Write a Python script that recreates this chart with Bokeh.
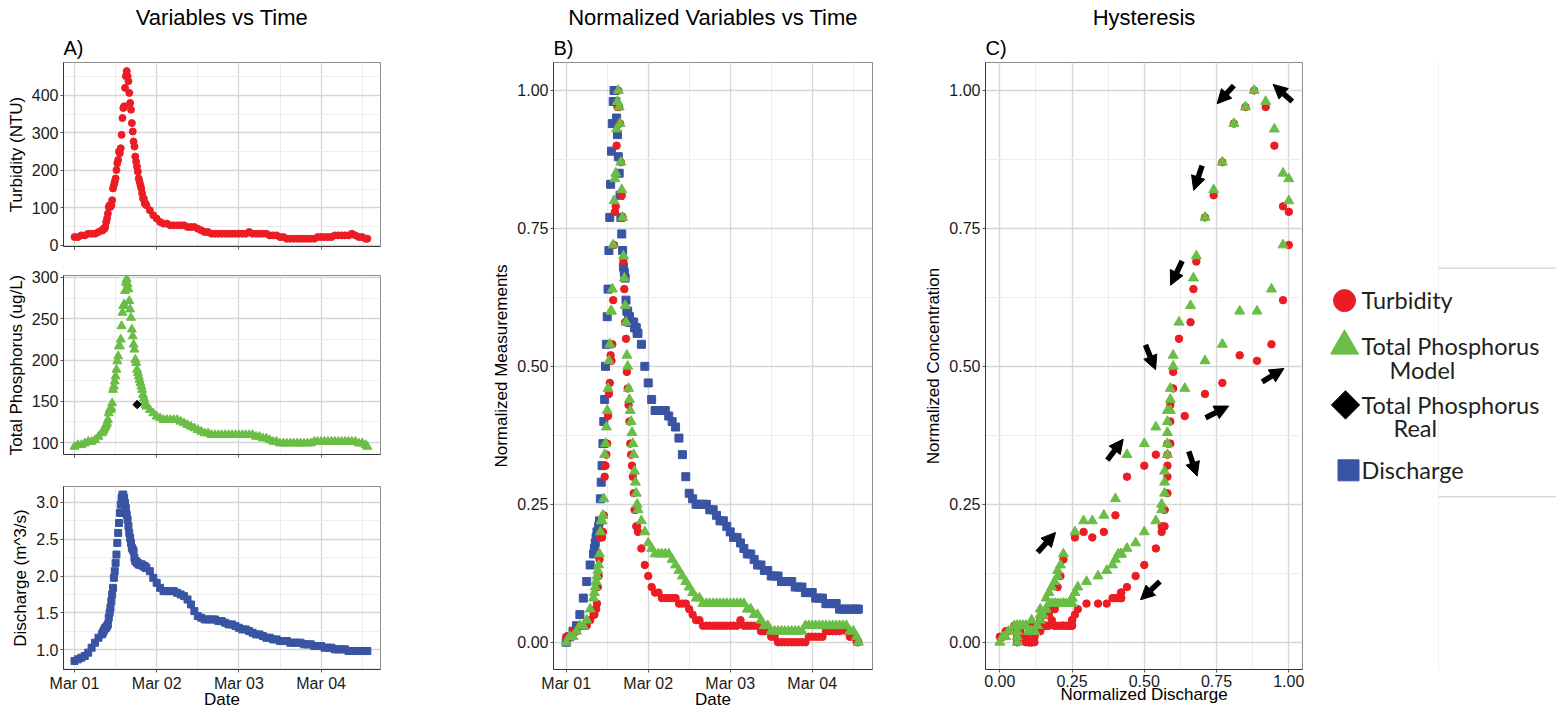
import math
from bokeh.plotting import figure
from bokeh.layouts import row, column
from bokeh.models import (Range1d, FixedTicker, Title, Arrow, NormalHead,
                          ColumnDataSource, NumeralTickFormatter)
from bokeh.embed import file_html
from bokeh.resources import INLINE
from bokeh.core.properties import value

# ---------------- data ----------------
# time: hours after Mar 01 00:00
hours = [0, 1, 2, 3, 4, 5, 6, 7, 8,
         8.25, 8.5, 8.75, 9, 9.25, 9.5, 9.75, 10, 10.25, 10.5, 10.75, 11, 11.25, 11.5, 11.75, 12,
         12.25, 12.5, 12.75, 13, 13.25, 13.5, 13.75, 14, 14.25, 14.5, 14.75, 15, 15.25, 15.5, 15.75, 16,
         16.25, 16.5, 16.75, 17, 17.25, 17.5, 17.75, 18, 18.25, 18.5, 18.75, 19, 19.25, 19.5, 19.75, 20,
         20.25, 20.5, 20.75, 21,
         22, 23, 24, 25, 26, 27, 28, 29, 30, 31, 32, 33, 34, 35, 36, 37, 38, 39, 40, 41, 42, 43, 44, 45, 46, 47,
         48, 49, 50, 51, 52, 53, 54, 55, 56, 57, 58, 59, 60, 61, 62, 63, 64, 65, 66, 67, 68, 69, 70, 71,
         72, 73, 74, 75, 76, 77, 78, 79, 80, 81, 82, 83, 84, 85, 85.5]

discharge_norm = [
    0.00, 0.01, 0.02, 0.03, 0.05, 0.08, 0.11, 0.14, 0.16,
    0.17, 0.18, 0.19, 0.20, 0.20, 0.21, 0.22, 0.26, 0.29, 0.32, 0.36, 0.40, 0.44, 0.50, 0.54, 0.59,
    0.64, 0.71, 0.77, 0.83, 0.89, 0.94, 0.98, 1.00, 1.00, 0.98, 0.95, 0.92, 0.88, 0.85, 0.81, 0.77,
    0.74, 0.71, 0.68, 0.67, 0.66, 0.62, 0.60, 0.60, 0.59, 0.59, 0.58, 0.58, 0.58, 0.58, 0.58, 0.57,
    0.57, 0.57, 0.56, 0.56,
    0.54, 0.50, 0.47, 0.44, 0.42, 0.42, 0.42, 0.42, 0.41, 0.40, 0.39, 0.37, 0.34, 0.30, 0.27, 0.26,
    0.25, 0.25, 0.25, 0.25, 0.24, 0.24, 0.23, 0.22, 0.22, 0.21,
    0.20, 0.19, 0.19, 0.18, 0.17, 0.16, 0.16, 0.15, 0.14, 0.14, 0.13, 0.13, 0.12, 0.12, 0.12, 0.11,
    0.11, 0.11, 0.11, 0.10, 0.10, 0.10, 0.09, 0.09,
    0.09, 0.08, 0.08, 0.08, 0.07, 0.07, 0.07, 0.07, 0.06, 0.06, 0.06, 0.06, 0.06, 0.06, 0.06]

turbidity_norm = [
    0.01, 0.01, 0.02, 0.02, 0.03, 0.03, 0.03, 0.04, 0.05,
    0.05, 0.06, 0.06, 0.07, 0.10, 0.12, 0.15, 0.19, 0.20, 0.19, 0.20, 0.23, 0.30, 0.32, 0.34, 0.36,
    0.41, 0.45, 0.47, 0.52, 0.51, 0.54, 0.62, 0.72, 0.78, 0.79, 0.90, 0.97, 1.00, 0.97, 0.94, 0.87,
    0.81, 0.77, 0.69, 0.64, 0.58, 0.55, 0.49, 0.46, 0.43, 0.40, 0.36, 0.34, 0.32, 0.30, 0.27, 0.24,
    0.24, 0.21, 0.21, 0.20,
    0.17, 0.14, 0.12, 0.10, 0.09, 0.09, 0.08, 0.08, 0.08, 0.08, 0.08, 0.07, 0.07, 0.07, 0.06, 0.05,
    0.04, 0.04, 0.03, 0.03, 0.03, 0.03, 0.03, 0.03, 0.03, 0.03,
    0.03, 0.03, 0.03, 0.04, 0.03, 0.03, 0.03, 0.03, 0.03, 0.02, 0.02, 0.02, 0.01, 0.01, 0.00, 0.00,
    0.00, 0.00, 0.00, 0.00, 0.00, 0.00, 0.00, 0.01,
    0.01, 0.01, 0.01, 0.01, 0.02, 0.02, 0.02, 0.02, 0.02, 0.03, 0.02, 0.01, 0.01, 0.00, 0.00]

tp_model_norm = [
    0.00, 0.01, 0.01, 0.02, 0.03, 0.03, 0.04, 0.06, 0.08,
    0.09, 0.10, 0.11, 0.12, 0.13, 0.14, 0.16, 0.20, 0.22, 0.22, 0.23, 0.26, 0.34, 0.36, 0.39, 0.42,
    0.46, 0.51, 0.54, 0.60, 0.60, 0.64, 0.72, 0.80, 0.84, 0.85, 0.93, 0.98, 1.00, 0.97, 0.94, 0.87,
    0.82, 0.77, 0.70, 0.66, 0.61, 0.58, 0.52, 0.50, 0.46, 0.44, 0.42, 0.40, 0.38, 0.36, 0.34, 0.31,
    0.29, 0.27, 0.25, 0.24,
    0.22, 0.20, 0.18, 0.17, 0.16, 0.16, 0.16, 0.16, 0.16, 0.15, 0.14, 0.13, 0.12, 0.11, 0.10, 0.09,
    0.08, 0.08, 0.07, 0.07, 0.07, 0.07, 0.07, 0.07, 0.07, 0.07,
    0.07, 0.07, 0.07, 0.07, 0.07, 0.06, 0.06, 0.05, 0.05, 0.04, 0.03, 0.03, 0.02, 0.02, 0.02, 0.02,
    0.02, 0.02, 0.02, 0.02, 0.02, 0.02, 0.03, 0.03,
    0.03, 0.03, 0.03, 0.03, 0.03, 0.03, 0.03, 0.03, 0.03, 0.03, 0.03, 0.02, 0.02, 0.01, 0.00]

turbidity_range = (18.0, 465.0)     # NTU
tp_range = (95.0, 298.0)            # ug/L
discharge_range = (0.85, 3.10)      # m^3/s

# single lab sample of total phosphorus
tp_real_hours = [18.3]
tp_real_value = [146.0]

date_ticks = [0, 24, 48, 72]
date_labels = ["Mar 01", "Mar 02", "Mar 03", "Mar 04"]

# hysteresis arrows (normalized discharge, normalized concentration): tail -> head
arrow_q0 = [0.810, 1.012, 0.700, 0.631, 0.504, 0.908, 0.712, 0.372, 0.654, 0.131, 0.554]
arrow_c0 = [1.009, 0.980, 0.864, 0.691, 0.539, 0.472, 0.407, 0.330, 0.346, 0.163, 0.110]
arrow_q1 = [0.752, 0.946, 0.671, 0.591, 0.539, 0.983, 0.792, 0.427, 0.683, 0.193, 0.487]
arrow_c1 = [0.976, 1.011, 0.819, 0.647, 0.494, 0.496, 0.428, 0.368, 0.301, 0.199, 0.077]

legend_labels = ["Turbidity", "Total Phosphorus", "Total Phosphorus", "Discharge"]
legend_sublabels = ["Model", "Real"]

n = len(hours)
for arr in (discharge_norm, turbidity_norm, tp_model_norm):
    assert len(arr) == n, (len(arr), n)


def scale(norm, rng):
    lo, hi = rng
    return [lo + v * (hi - lo) for v in norm]


turbidity = scale(turbidity_norm, turbidity_range)
tp_model = scale(tp_model_norm, tp_range)
discharge = scale(discharge_norm, discharge_range)

src = ColumnDataSource(dict(h=hours, turb=turbidity, tp=tp_model, q=discharge,
                            turb_n=turbidity_norm, tp_n=tp_model_norm, q_n=discharge_norm))

# ---------------- styling ----------------
FONT = "Liberation Sans"
RED = "#EC1C24"
GREEN = "#6ABD45"
BLUE = "#3A54A4"
GRID = "#d6d6d6"
MINOR = "#ededed"
TOP_BORDER = 62
BOTTOM_BORDER = 41


def make_fig(width, height, xr, yr, bl, br, bt, bb, tag=None, main_title=None):
    p = figure(width=width, height=height, x_range=Range1d(*xr), y_range=Range1d(*yr),
               output_backend="svg", toolbar_location=None, title=main_title,
               min_border_left=bl, min_border_right=br, min_border_top=bt, min_border_bottom=bb)
    p.outline_line_color = "#8c8c8c"
    p.outline_line_width = 1
    p.background_fill_color = "white"
    p.border_fill_color = "white"
    for ax in p.axis:
        ax.axis_line_color = "#333333"
        ax.major_tick_line_color = "#555555"
        ax.major_tick_out = 3
        ax.major_tick_in = 0
        ax.minor_tick_line_color = None
        ax.minor_tick_out = 0
        ax.major_label_text_font = FONT
        ax.major_label_text_font_size = "16px"
        ax.major_label_text_color = "#1a1a1a"
        ax.major_label_standoff = 2
        ax.axis_label_text_font = FONT
        ax.axis_label_text_font_size = "17px"
        ax.axis_label_text_font_style = "normal"
        ax.axis_label_text_color = "#000000"
        ax.axis_label_standoff = 3
    for ax in p.xaxis:
        ax.axis_label_standoff = -5
        ax.major_label_standoff = 2
    for g in p.grid:
        g.grid_line_color = GRID
        g.grid_line_width = 1.3
        g.minor_grid_line_color = MINOR
        g.minor_grid_line_width = 1
    if main_title is not None:
        p.title.align = "center"
        p.title.text_font = FONT
        p.title.text_font_size = "22px"
        p.title.text_font_style = "normal"
        p.title.text_color = "#000000"
        p.title.standoff = 2
    if tag is not None:
        p.add_layout(Title(text=tag, align="left", text_font=FONT,
                           text_font_size="20px", text_font_style="normal",
                           text_color="#000000", standoff=8), "above")
    return p


def date_axis(p, show_labels=True):
    p.xaxis.ticker = FixedTicker(ticks=date_ticks, minor_ticks=[t + 12 for t in date_ticks])
    if show_labels:
        p.xaxis.major_label_overrides = {t: lab for t, lab in zip(date_ticks, date_labels)}
        p.xaxis.axis_label = "Date"
    else:
        p.xaxis.major_label_overrides = {t: "" for t in date_ticks}
        p.xaxis.major_label_text_font_size = "1px"


def diamond(p, x, y, size, color):
    # a square turned 45 degrees, as the reference draws its diamonds
    p.scatter(x, y, marker="square", size=size, angle=math.pi / 4, color=color)


norm_ticks = [0, 0.25, 0.5, 0.75, 1.0]
norm_minor = [0.125, 0.375, 0.625, 0.875]

# ---------------- panel A ----------------
xa = (-3.21, 89.34)
a1 = make_fig(470, 260, xa, (-2.7, 488), 63, 90, TOP_BORDER, 14, tag="A)", main_title="Variables vs Time")
date_axis(a1, show_labels=False)
a1.yaxis.ticker = FixedTicker(ticks=[0, 100, 200, 300, 400], minor_ticks=[50, 150, 250, 350, 450])
a1.yaxis.axis_label = "Turbidity (NTU)"
a1.scatter("h", "turb", source=src, marker="circle", size=7, color=RED)

a2 = make_fig(470, 210, xa, (85.5, 302.4), 63, 90, 15, 16)
date_axis(a2, show_labels=False)
a2.yaxis.ticker = FixedTicker(ticks=[100, 150, 200, 250, 300], minor_ticks=[125, 175, 225, 275])
a2.yaxis.axis_label = "Total Phosphorus (ug/L)"
a2.scatter("h", "tp", source=src, marker="triangle", size=9, color=GREEN)
diamond(a2, tp_real_hours, tp_real_value, 6, "black")

a3 = make_fig(470, 241, xa, (0.735, 3.211), 63, 90, 16, BOTTOM_BORDER)
date_axis(a3, show_labels=True)
a3.yaxis.ticker = FixedTicker(ticks=[1.0, 1.5, 2.0, 2.5, 3.0], minor_ticks=[0.75, 1.25, 1.75, 2.25, 2.75])
a3.yaxis.formatter = NumeralTickFormatter(format="0.0")
a3.yaxis.axis_label = "Discharge (m^3/s)"
a3.scatter("h", "q", source=src, marker="square", size=7, color=BLUE)

# ---------------- panel B ----------------
b = make_fig(430, 711, (-3.72, 89.64), (-0.0494, 1.0507), 83, 28, TOP_BORDER, BOTTOM_BORDER,
             tag="B)", main_title="Normalized Variables vs Time")
date_axis(b, show_labels=True)
b.yaxis.ticker = FixedTicker(ticks=norm_ticks, minor_ticks=norm_minor)
b.yaxis.formatter = NumeralTickFormatter(format="0.00")
b.yaxis.axis_label = "Normalized Measurements"
b.scatter("h", "q_n", source=src, marker="square", size=8, color=BLUE)
b.scatter("h", "turb_n", source=src, marker="circle", size=7.5, color=RED)
b.scatter("h", "tp_n", source=src, marker="triangle", size=10, color=GREEN)

# ---------------- panel C ----------------
c = make_fig(430, 711, (-0.0495, 1.0474), (-0.0494, 1.0507), 85, 28, TOP_BORDER, BOTTOM_BORDER,
             tag="C)", main_title="Hysteresis")
c.xaxis.ticker = FixedTicker(ticks=norm_ticks, minor_ticks=norm_minor)
c.xaxis.formatter = NumeralTickFormatter(format="0.00")
c.yaxis.ticker = FixedTicker(ticks=norm_ticks, minor_ticks=norm_minor)
c.yaxis.formatter = NumeralTickFormatter(format="0.00")
c.xaxis.axis_label = "Normalized Discharge"
c.yaxis.axis_label = "Normalized Concentration"
c.scatter("q_n", "turb_n", source=src, marker="circle", size=7.5, color=RED)
c.scatter("q_n", "tp_n", source=src, marker="triangle", size=10, color=GREEN)
arrow_src = ColumnDataSource(dict(x0=arrow_q0, y0=arrow_c0, x1=arrow_q1, y1=arrow_c1))
c.add_layout(Arrow(source=arrow_src, x_start="x0", y_start="y0", x_end="x1", y_end="y1",
                   line_width=5.5, line_color="black",
                   end=NormalHead(size=14, fill_color="black", line_color="black", line_width=1)))

# ---------------- legend panel (coordinates = page pixels) ----------------
lg = figure(width=226, height=711, x_range=Range1d(1330, 1556),
            y_range=Range1d(711 - BOTTOM_BORDER, TOP_BORDER),
            output_backend="svg", toolbar_location=None,
            min_border_left=0, min_border_right=0,
            min_border_top=TOP_BORDER, min_border_bottom=BOTTOM_BORDER,
            x_axis_type=None, y_axis_type=None)
lg.outline_line_color = None
lg.grid.visible = False
# faint separator lines of the composed figure
lg.segment(x0=[1438, 1438, 1438], y0=[0, 268, 497], x1=[1438, 1556, 1556], y1=[711, 268, 497],
           line_color=["#efefef", "#c8c8c8", "#c8c8c8"], line_width=1)
key_x = [1344, 1344, 1345, 1348]
key_y = [300.5, 346, 405, 470.5]
lg.scatter([key_x[0]], [key_y[0]], marker="circle", size=22, color=RED)
lg.scatter([key_x[1]], [key_y[1]], marker="triangle", size=28, color=GREEN)
diamond(lg, [key_x[2]], [key_y[2]], 20, "black")
lg.scatter([key_x[3]], [key_y[3]], marker="square", size=21, color=BLUE)
lg.text(x=[1361, 1361, 1361, 1361, 1389, 1393],
        y=[300, 346, 405, 470, 370, 428],
        text=legend_labels + legend_sublabels,
        text_font=value("Lato"), text_font_size="23.5px", text_color="#231f20",
        text_baseline="middle", text_align="left")

layout = row(column(a1, a2, a3), b, c, lg)
open("out.html", "w").write(file_html(layout, INLINE))
